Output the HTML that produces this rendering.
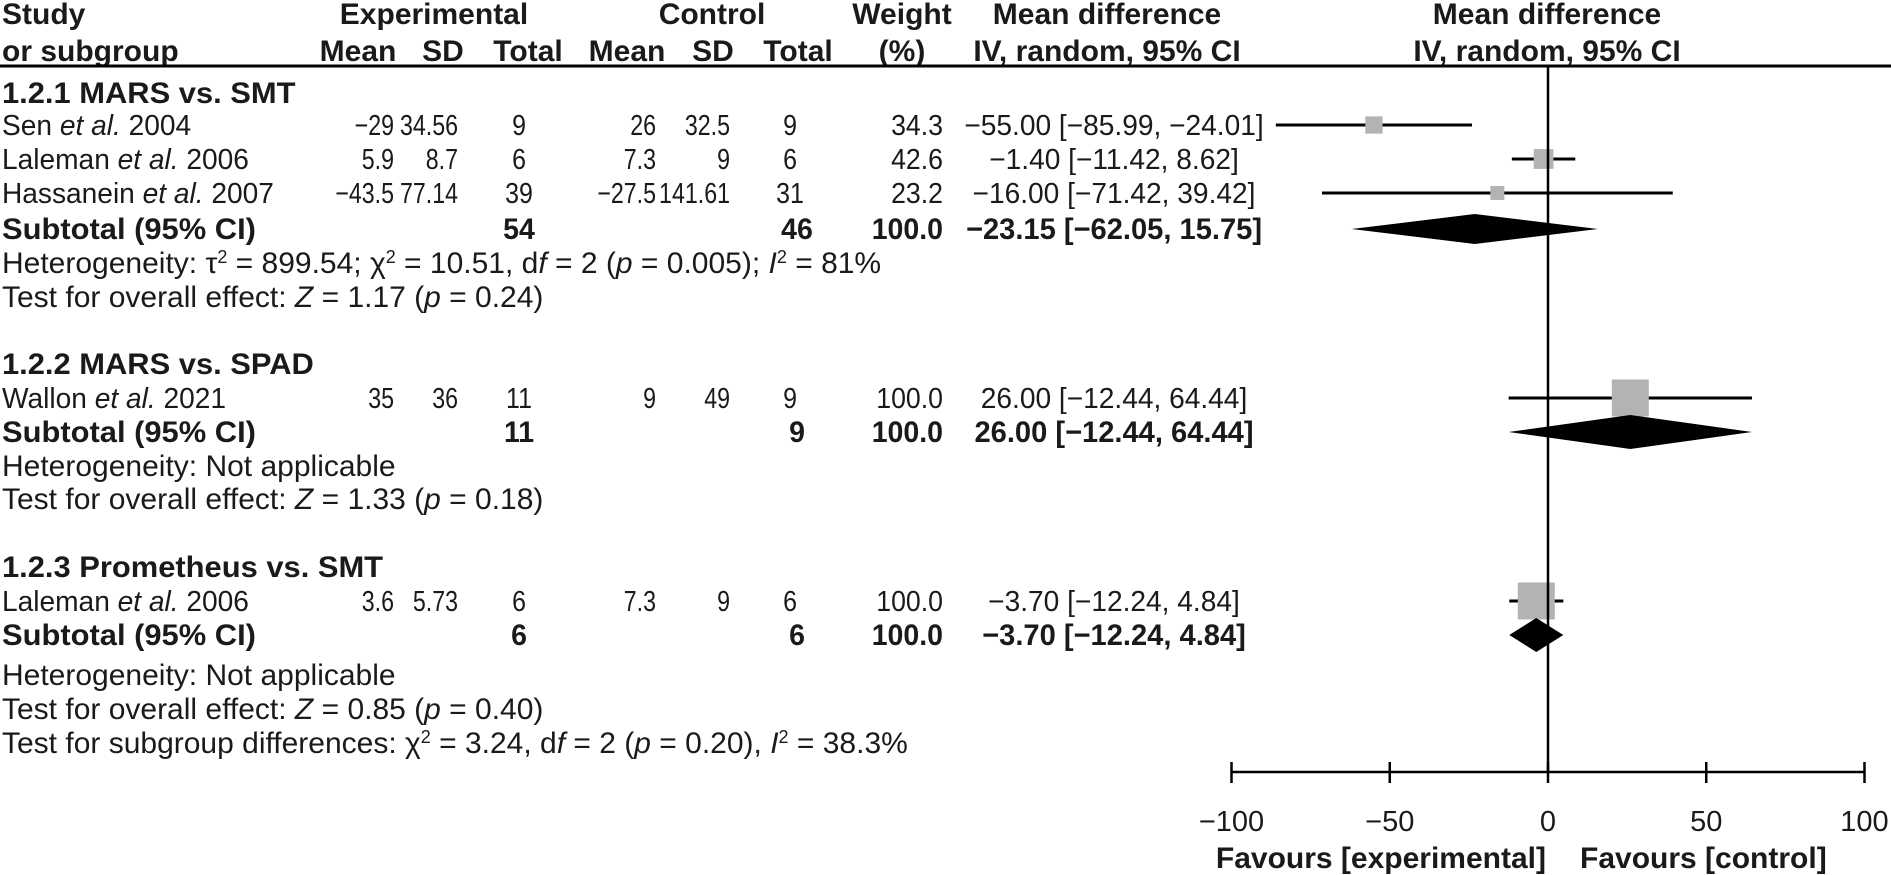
<!DOCTYPE html>
<html><head><meta charset="utf-8"><style>
html,body{margin:0;padding:0;background:#fff;}
svg{display:block;font-family:"Liberation Sans",sans-serif;}
text{fill:#1a1a1a;}
.b{font-weight:bold;}
.r{text-anchor:end;}
.c{text-anchor:middle;}
</style></head><body>
<svg id="fp" width="1891" height="875" viewBox="0 0 1891 875" xmlns="http://www.w3.org/2000/svg">
<g id="rows"></g>
<line x1="0" y1="66" x2="1891" y2="66" stroke="#000" stroke-width="3"/>
<g id="plot"></g>
</svg>
<script>
const NS="http://www.w3.org/2000/svg";
const rowsG=document.getElementById('rows');
const plotG=document.getElementById('plot');
// data
const studyLabels=["Sen","Laleman","Hassanein","Wallon","Laleman"];
const studyYears=["2004","2006","2007","2021","2006"];
const expMean=["−29","5.9","−43.5","35","3.6"];
const expSD=["34.56","8.7","77.14","36","5.73"];
const expN=["9","6","39","11","6"];
const ctlMean=["26","7.3","−27.5","9","7.3"];
const ctlSD=["32.5","9","141.61","49","9"];
const ctlN=["9","6","31","9","6"];
const weights=[34.3,42.6,23.2,100.0,100.0];
const md=[-55.00,-1.40,-16.00,26.00,-3.70];
const lo=[-85.99,-11.42,-71.42,-12.44,-12.24];
const hi=[-24.01,8.62,39.42,64.44,4.84];
const studyRowY=[125,159,193,398,601];
const subMd=[-23.15,26.00,-3.70];
const subLo=[-62.05,-12.44,-12.24];
const subHi=[15.75,64.44,4.84];
const subExpN=["54","11","6"];
const subCtlN=["46","9","6"];
const subRowY=[229,432,635];
const ticks=[-100,-50,0,50,100];
const tickLabels=["−100","−50","0","50","100"];
function fmt(v){return (v<0?"−":"")+Math.abs(v).toFixed(2);}
function xs(v){return 1548+v*3.165;}
function t(x,y,str,cls,name,size,sx){const e=document.createElementNS(NS,'text');
 e.setAttribute('x',0);e.setAttribute('y',0);
 e.setAttribute('transform',`translate(${x},${y}) scale(${sx||1},1)`);
 e.setAttribute('font-size',size||27);
 if(cls)e.setAttribute('class',cls);
 if(str)e.textContent=str;
 
 
 rowsG.appendChild(e);return e;}
function mk(tag,attrs,parent){const e=document.createElementNS(NS,tag);for(const k in attrs)e.setAttribute(k,attrs[k]);(parent||plotG).appendChild(e);return e;}
// header
const hdr=[
[2,24,"Study","b","header-study",""],
[2,61,"or subgroup","b","header-subgroup",""],
[434,24,"Experimental","b c","header-experimental",""],
[712,24,"Control","b c","header-control",""],
[902,24,"Weight","b c","header-weight",""],
[902,61,"(%)","b c","header-percent",""],
[1107,24,"Mean difference","b c","header-md",""],
[1107,61,"IV, random, 95% CI","b c","header-md-method",""],
[1547,24,"Mean difference","b c","header-plot-md",""],
[1547,61,"IV, random, 95% CI","b c","header-plot-method",""],
[358,61,"Mean","b c","header-exp-mean",""],
[443,61,"SD","b c","header-exp-sd",""],
[528,61,"Total","b c","header-exp-total",""],
[627,61,"Mean","b c","header-ctrl-mean",""],
[713,61,"SD","b c","header-ctrl-sd",""],
[798,61,"Total","b c","header-ctrl-total",""]];
hdr.forEach(h=>t(h[0],h[1],h[2],h[3],h[4],30,1.0));
// notes with italic parts
function rich(x,y,segs,name,size,bold){const e=t(x,y,"",bold?'b':null,name,size,bold?1.03:1.0);
 segs.forEach(s=>{const sp=document.createElementNS(NS,'tspan');if(s[1])sp.setAttribute('font-style','italic');if(s[2])sp.setAttribute('baseline-shift','super'),sp.setAttribute('font-size',size*0.6);sp.textContent=s[0];e.appendChild(sp);});}
rich(2,103,[["1.2.1 MARS vs. SMT"]],"subgroup-1-title",30,true);
rich(2,273,[["Heterogeneity: τ"],["2","",1],[" = 899.54; χ"],["2","",1],[" = 10.51, d"],["f",1],[" = 2 ("],["p",1],[" = 0.005); "],["I",1],["2","",1],[" = 81%"]],"heterogeneity-1",30);
rich(2,307,[["Test for overall effect: "],["Z",1],[" = 1.17 ("],["p",1],[" = 0.24)"]],"overall-effect-1",30);
rich(2,374,[["1.2.2 MARS vs. SPAD"]],"subgroup-2-title",30,true);
rich(2,476,[["Heterogeneity: Not applicable"]],"heterogeneity-2",30);
rich(2,509,[["Test for overall effect: "],["Z",1],[" = 1.33 ("],["p",1],[" = 0.18)"]],"overall-effect-2",30);
rich(2,577,[["1.2.3 Prometheus vs. SMT"]],"subgroup-3-title",30,true);
rich(2,685,[["Heterogeneity: Not applicable"]],"heterogeneity-3",30);
rich(2,719,[["Test for overall effect: "],["Z",1],[" = 0.85 ("],["p",1],[" = 0.40)"]],"overall-effect-3",30);
rich(2,753,[["Test for subgroup differences: χ"],["2","",1],[" = 3.24, d"],["f",1],[" = 2 ("],["p",1],[" = 0.20), "],["I",1],["2","",1],[" = 38.3%"]],"subgroup-differences",30);
// studies
for(let i=0;i<md.length;i++){
 const y=studyRowY[i], by=y+10;
 const e=t(2,by,"",null,'study-label',29,0.97);
 e.appendChild(document.createTextNode(studyLabels[i]+" "));
 const it=document.createElementNS(NS,'tspan');it.setAttribute('font-style','italic');it.textContent='et al.';e.appendChild(it);
 e.appendChild(document.createTextNode(" "+studyYears[i]));
 t(394,by,expMean[i],'r','exp-mean',29,0.8);
 t(458,by,expSD[i],'r','exp-sd',29,0.8);
 t(519,by,expN[i],'c','exp-total',29,0.86);
 t(656,by,ctlMean[i],'r','ctrl-mean',29,0.8);
 t(730,by,ctlSD[i],'r','ctrl-sd',29,0.8);
 t(790,by,ctlN[i],'c','ctrl-total',29,0.86);
 t(943,by,weights[i].toFixed(1),'r','weight',29,0.92);
 t(1114,by,fmt(md[i])+" ["+fmt(lo[i])+", "+fmt(hi[i])+"]",'c','md-ci',29,0.97);
 const l=mk('line',{x1:xs(lo[i]),x2:xs(hi[i]),y1:y,y2:y,stroke:'#000','stroke-width':3});
 
 
 const s=weights[i]*0.3+7;
 const r=mk('rect',{x:xs(md[i])-s/2,y:y-s/2,width:s,height:s,fill:'#b3b3b3'});
 
 
}
for(let j=0;j<subMd.length;j++){
 const y=subRowY[j], by=y+10;
 t(2,by,"Subtotal (95% CI)",'b','subtotal-label',30,1.03);
 t(519,by,subExpN[j],'c b','subtotal-exp-total',30,0.95);
 t(797,by,subCtlN[j],'c b','subtotal-ctrl-total',30,0.95);
 t(943,by,"100.0",'r b','subtotal-weight',30,0.95);
 t(1114,by,fmt(subMd[j])+" ["+fmt(subLo[j])+", "+fmt(subHi[j])+"]",'c b','subtotal-md-ci',30,0.97);
 const h=j==0?15:17;
 const d=mk('polygon',{points:`${xs(subLo[j])},${y} ${xs(subMd[j])},${y-h} ${xs(subHi[j])},${y} ${xs(subMd[j])},${y+h}`,fill:'#000'});
 
 
}
// axes
const z=mk('line',{x1:xs(0),x2:xs(0),y1:66,y2:772,stroke:'#000','stroke-width':2.5});


const ax=mk('line',{x1:xs(ticks[0]),x2:xs(ticks[ticks.length-1]),y1:772,y2:772,stroke:'#000','stroke-width':2.5});


ticks.forEach((v,i)=>{
 const tk=mk('line',{x1:xs(v),x2:xs(v),y1:762,y2:783,stroke:'#000','stroke-width':2.5});
 
 
 const tl=mk('text',{x:xs(v),y:831,class:'c','font-size':29});tl.textContent=tickLabels[i];
 
 
});
const f1=mk('text',{x:1546,y:868,class:'r b','font-size':30});f1.textContent='Favours [experimental]';


const f2=mk('text',{x:1580,y:868,class:'b','font-size':30});f2.textContent='Favours [control]';


</script>
</body></html>
